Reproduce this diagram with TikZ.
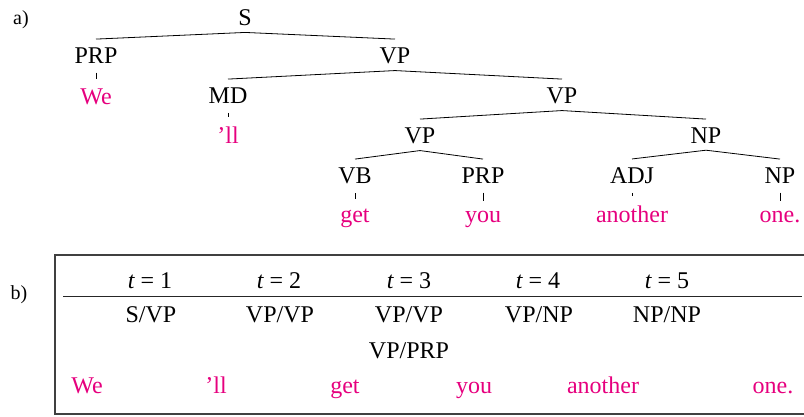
\documentclass[tikz,border=0pt]{standalone}
\usepackage{fontspec}
\setmainfont{Liberation Serif}
\definecolor{wordpink}{RGB}{230,0,126}
\begin{document}
\begin{tikzpicture}[x=1pt,y=1pt,
  lab/.style={inner sep=0pt, anchor=base, font=\fontsize{24}{28}\selectfont},
  word/.style={lab, text=wordpink},
  branch/.style={line width=0.8pt},
  tick/.style={line width=0.8pt},
  tag/.style={inner sep=0pt, anchor=base, font=\fontsize{20}{24}\selectfont},
  frame/.style={line width=1.1pt, black!75}]
\useasboundingbox (0,0) rectangle (804,-416);

% ---------- a) tree ----------
\node[tag] (a) at (21,-24) {a)};
\node[lab] (S) at (245,-25) {S};
\node[lab] (PRPa) at (96,-63) {PRP};
\node[lab] (VPa) at (395,-63) {VP};
\node[word] (We) at (96,-104) {We};
\node[lab] (MD) at (228,-103) {MD};
\node[lab] (VPb) at (562,-103) {VP};
\node[word] (ll) at (228,-143) {’ll};
\node[lab] (VPc) at (420,-143) {VP};
\node[lab] (NPa) at (706,-143) {NP};
\node[lab] (VB) at (355,-183) {VB};
\node[lab] (PRPb) at (483,-183) {PRP};
\node[lab] (ADJ) at (632,-183) {ADJ};
\node[lab] (NPb) at (780,-183) {NP};
\node[word] (get) at (355,-222) {get};
\node[word] (you) at (483,-222) {you};
\node[word] (another) at (632,-222) {another};
\node[word] (one) at (780,-222) {one.};

\foreach \p/\c in {S/PRPa, S/VPa, VPa/MD, VPa/VPb, VPb/VPc, VPb/NPa, VPc/VB, VPc/PRPb, NPa/ADJ, NPa/NPb}
  \draw[branch] ([yshift=-7pt]\p.south) -- ([yshift=8pt]\c.north);

\foreach \p/\c in {PRPa/We, MD/ll, VB/get, PRPb/you, ADJ/another, NPb/one}
  \draw[tick] ([yshift=-9.5pt]\p.south) -- ([yshift=9pt]\c.north);

% ---------- b) table ----------
\node[tag] (b) at (19,-299) {b)};
\coordinate (ftr) at (804,-255);
\coordinate (fbl) at (55,-414);
\coordinate (fbr) at (804,-414);
\draw[frame] (ftr) -| (fbl) -- (fbr);
\coordinate (rl) at (63,-296);
\coordinate (rr) at (802,-296);
\draw[line width=1pt, black!85] (rl) -- (rr);

\node[lab] (t1) at (150,-288) {\itshape t\upshape{} = 1};
\node[lab] (t2) at (279,-288) {\itshape t\upshape{} = 2};
\node[lab] (t3) at (409,-288) {\itshape t\upshape{} = 3};
\node[lab] (t4) at (538,-288) {\itshape t\upshape{} = 4};
\node[lab] (t5) at (667,-288) {\itshape t\upshape{} = 5};

\node[lab] (s1) at (151,-322) {S/VP};
\node[lab] (s2) at (280,-322) {VP/VP};
\node[lab] (s3) at (409,-322) {VP/VP};
\node[lab] (s3b) at (409,-358) {VP/PRP};
\node[lab] (s4) at (539,-322) {VP/NP};
\node[lab] (s5) at (667,-322) {NP/NP};

\node[word] (w1) at (87,-393) {We};
\node[word] (w2) at (216,-393) {’ll};
\node[word] (w3) at (345,-393) {get};
\node[word] (w4) at (474,-393) {you};
\node[word] (w5) at (603,-393) {another};
\node[word] (w6) at (773,-393) {one.};
\end{tikzpicture}
\end{document}
